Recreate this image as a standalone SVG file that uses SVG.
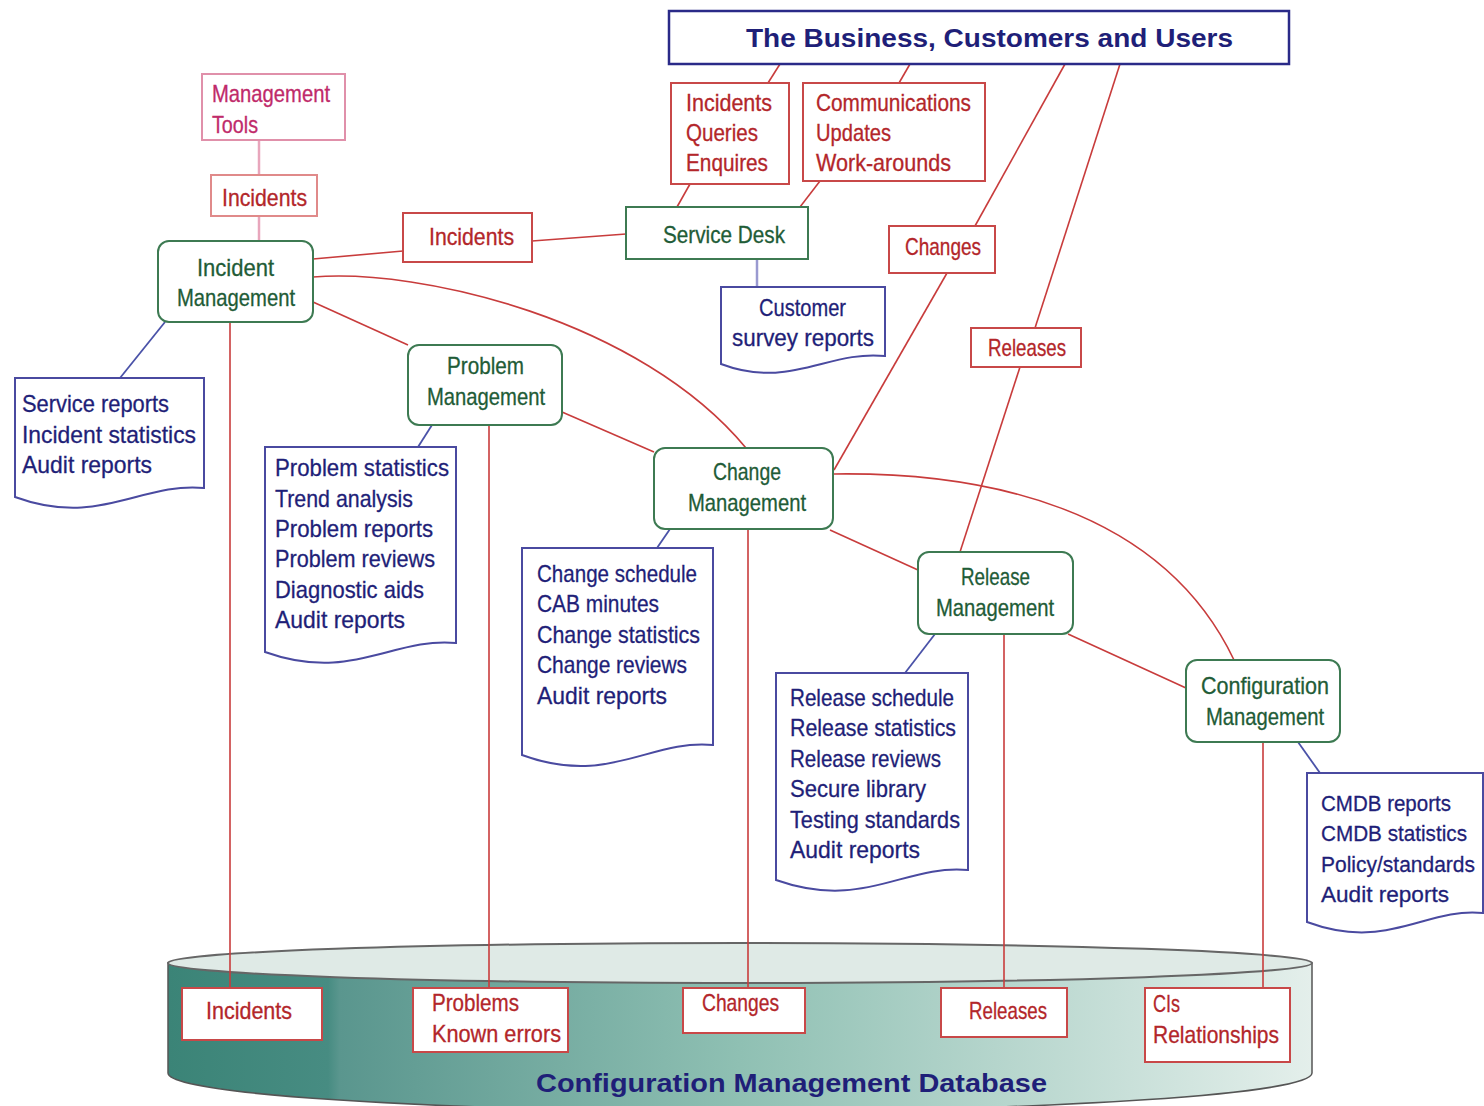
<svg xmlns="http://www.w3.org/2000/svg" width="1484" height="1106" viewBox="0 0 1484 1106">
<defs>
<linearGradient id="dbg" x1="168" y1="0" x2="1312" y2="0" gradientUnits="userSpaceOnUse">
<stop offset="0" stop-color="#3b8477"/>
<stop offset="0.14" stop-color="#478c82"/>
<stop offset="0.15" stop-color="#5a968e"/>
<stop offset="0.5" stop-color="#8fc0b3"/>
<stop offset="1" stop-color="#e4efeb"/>
</linearGradient>
<style>
text{font-family:"Liberation Sans",Arial,sans-serif;font-size:24px}
.g{fill:#1f5c37;stroke:#1f5c37;stroke-width:0.3}
.r{fill:#b3262a;stroke:#b3262a;stroke-width:0.3}
.n{fill:#1f1f78;stroke:#1f1f78;stroke-width:0.3}
.m{fill:#c02a6a;stroke:#c02a6a;stroke-width:0.3}
.s{font-size:22px}
.b{font-weight:bold;font-size:26px;fill:#1f1f78}
.node{fill:#fff;stroke:#3d7a52;stroke-width:2}
.lab{fill:#fff;stroke:#c84848;stroke-width:2}
.doc{fill:#fff;stroke:#4a4aa0;stroke-width:2}
.c{fill:none;stroke:#c83c3c;stroke-width:1.6}
.cb{fill:none;stroke:#4a52a8;stroke-width:1.8}
</style>
</defs>
<rect width="1484" height="1106" fill="#fff"/>

<g id="connectors">
<line class="c" x1="780" y1="64" x2="768" y2="83"/>
<line class="c" x1="910" y1="64" x2="899" y2="83"/>
<line class="c" x1="690" y1="184" x2="677" y2="207"/>
<line class="c" x1="820" y1="181" x2="800" y2="207"/>
<line class="c" x1="1065" y1="64" x2="975" y2="226"/>
<line class="c" x1="947" y1="273" x2="834" y2="470"/>
<line class="c" x1="1120" y1="64" x2="1035" y2="328"/>
<line class="c" x1="1020" y1="367" x2="960" y2="552"/>
<line class="c" x1="313" y1="259" x2="403" y2="251"/>
<line class="c" x1="532" y1="241" x2="626" y2="234"/>
<line class="c" x1="313" y1="302" x2="408" y2="345"/>
<line class="c" x1="562" y1="412" x2="654" y2="452"/>
<line class="c" x1="830" y1="530" x2="918" y2="570"/>
<line class="c" x1="1068" y1="634" x2="1186" y2="688"/>
<path class="c" d="M313,277 C420,268 640,320 746,448"/>
<path class="c" d="M834,474 C980,472 1160,505 1234,660"/>
<line x1="259" y1="140" x2="259" y2="175" stroke="#e8a6bc" stroke-width="2.5"/>
<line x1="259" y1="216" x2="259" y2="241" stroke="#e8a6bc" stroke-width="2.5"/>
<line x1="757" y1="259" x2="757" y2="287" stroke="#9a9ad0" stroke-width="2.5"/>
<line class="cb" x1="165" y1="322" x2="120" y2="378"/>
<line class="cb" x1="432" y1="425" x2="418" y2="447"/>
<line class="cb" x1="670" y1="529" x2="657" y2="548"/>
<line class="cb" x1="935" y1="634" x2="905" y2="673"/>
<line class="cb" x1="1298" y1="742" x2="1320" y2="773"/>
</g>

<g id="cmdb">
<path d="M168,963 V1073 A572 38 0 0 0 1312,1073 V963 Z" fill="url(#dbg)" stroke="#555" stroke-width="1.5"/>
<ellipse cx="740" cy="963" rx="572" ry="20" fill="#dfeae6" stroke="#666" stroke-width="2"/>
<text class="b" x="536" y="1092" textLength="511" lengthAdjust="spacingAndGlyphs">Configuration Management Database</text>
</g>

<g id="db-lines">
<line class="c" x1="230" y1="322" x2="230" y2="988"/>
<line class="c" x1="489" y1="425" x2="489" y2="988"/>
<line class="c" x1="748" y1="529" x2="748" y2="988"/>
<line class="c" x1="1004" y1="634" x2="1004" y2="988"/>
<line class="c" x1="1263" y1="742" x2="1263" y2="988"/>
</g>

<g id="business">
<rect x="669" y="11" width="620" height="53" fill="#fff" stroke="#2a2a88" stroke-width="2.5"/>
<text class="b" x="746" y="47" textLength="487" lengthAdjust="spacingAndGlyphs">The Business, Customers and Users</text>
</g>

<g id="management-tools">
<rect x="202" y="74" width="143" height="66" fill="#fff" stroke="#e090aa" stroke-width="2"/>
<text class="m" x="212" y="102" textLength="118" lengthAdjust="spacingAndGlyphs">Management</text>
<text class="m" x="212" y="133" textLength="46" lengthAdjust="spacingAndGlyphs">Tools</text>
</g>

<g id="incidents-tools">
<rect x="211" y="175" width="106" height="41" fill="#fff" stroke="#e08a8a" stroke-width="2"/>
<text class="r" x="222" y="206" textLength="85" lengthAdjust="spacingAndGlyphs">Incidents</text>
</g>

<g id="incident-management">
<rect class="node" x="158" y="241" width="155" height="81" rx="11"/>
<text class="g" x="197" y="276" textLength="77" lengthAdjust="spacingAndGlyphs">Incident</text>
<text class="g" x="177" y="306" textLength="118" lengthAdjust="spacingAndGlyphs">Management</text>
</g>

<g id="incidents-mid">
<rect class="lab" x="403" y="213" width="129" height="49"/>
<text class="r" x="429" y="245" textLength="85" lengthAdjust="spacingAndGlyphs">Incidents</text>
</g>

<g id="iqe">
<rect class="lab" x="671" y="83" width="118" height="101"/>
<text class="r" x="686" y="111" textLength="86" lengthAdjust="spacingAndGlyphs">Incidents</text>
<text class="r" x="686" y="141" textLength="72" lengthAdjust="spacingAndGlyphs">Queries</text>
<text class="r" x="686" y="171" textLength="82" lengthAdjust="spacingAndGlyphs">Enquires</text>
</g>

<g id="communications">
<rect class="lab" x="803" y="83" width="182" height="98"/>
<text class="r" x="816" y="111" textLength="155" lengthAdjust="spacingAndGlyphs">Communications</text>
<text class="r" x="816" y="141" textLength="75" lengthAdjust="spacingAndGlyphs">Updates</text>
<text class="r" x="816" y="171" textLength="135" lengthAdjust="spacingAndGlyphs">Work-arounds</text>
</g>

<g id="service-desk">
<rect class="node" x="626" y="207" width="182" height="52"/>
<text class="g" x="663" y="243" textLength="122" lengthAdjust="spacingAndGlyphs">Service Desk</text>
</g>

<g id="customer-survey">
<path class="doc" d="M721,287 H885 V356 C828,350 790,390 721,364 Z"/>
<text class="n" x="759" y="316" textLength="87" lengthAdjust="spacingAndGlyphs">Customer</text>
<text class="n" x="732" y="346" textLength="142" lengthAdjust="spacingAndGlyphs">survey reports</text>
</g>

<g id="changes-label">
<rect class="lab" x="889" y="226" width="106" height="47"/>
<text class="r" x="905" y="255" textLength="76" lengthAdjust="spacingAndGlyphs">Changes</text>
</g>

<g id="releases-label">
<rect class="lab" x="971" y="328" width="110" height="39"/>
<text class="r" x="988" y="356" textLength="78" lengthAdjust="spacingAndGlyphs">Releases</text>
</g>

<g id="problem-management">
<rect class="node" x="408" y="345" width="154" height="80" rx="11"/>
<text class="g" x="447" y="374" textLength="77" lengthAdjust="spacingAndGlyphs">Problem</text>
<text class="g" x="427" y="405" textLength="118" lengthAdjust="spacingAndGlyphs">Management</text>
</g>

<g id="change-management">
<rect class="node" x="654" y="448" width="179" height="81" rx="11"/>
<text class="g" x="713" y="480" textLength="68" lengthAdjust="spacingAndGlyphs">Change</text>
<text class="g" x="688" y="511" textLength="118" lengthAdjust="spacingAndGlyphs">Management</text>
</g>

<g id="release-management">
<rect class="node" x="918" y="552" width="155" height="82" rx="11"/>
<text class="g" x="961" y="585" textLength="69" lengthAdjust="spacingAndGlyphs">Release</text>
<text class="g" x="936" y="616" textLength="118" lengthAdjust="spacingAndGlyphs">Management</text>
</g>

<g id="configuration-management">
<rect class="node" x="1186" y="660" width="154" height="82" rx="11"/>
<text class="g" x="1201" y="694" textLength="128" lengthAdjust="spacingAndGlyphs">Configuration</text>
<text class="g" x="1206" y="725" textLength="118" lengthAdjust="spacingAndGlyphs">Management</text>
</g>

<g id="service-reports">
<path class="doc" d="M15,378 H204 V488 C140,482 100,528 15,497 Z"/>
<text class="n" x="22" y="412" textLength="147" lengthAdjust="spacingAndGlyphs">Service reports</text>
<text class="n" x="22" y="443" textLength="174" lengthAdjust="spacingAndGlyphs">Incident statistics</text>
<text class="n" x="22" y="473" textLength="130" lengthAdjust="spacingAndGlyphs">Audit reports</text>
</g>

<g id="problem-outputs">
<path class="doc" d="M265,447 H456 V643 C392,637 352,683 265,652 Z"/>
<text class="n" x="275" y="476" textLength="174" lengthAdjust="spacingAndGlyphs">Problem statistics</text>
<text class="n" x="275" y="507" textLength="138" lengthAdjust="spacingAndGlyphs">Trend analysis</text>
<text class="n" x="275" y="537" textLength="158" lengthAdjust="spacingAndGlyphs">Problem reports</text>
<text class="n" x="275" y="567" textLength="160" lengthAdjust="spacingAndGlyphs">Problem reviews</text>
<text class="n" x="275" y="598" textLength="149" lengthAdjust="spacingAndGlyphs">Diagnostic aids</text>
<text class="n" x="275" y="628" textLength="130" lengthAdjust="spacingAndGlyphs">Audit reports</text>
</g>

<g id="change-outputs">
<path class="doc" d="M522,548 H713 V745 C649,739 609,787 522,755 Z"/>
<text class="n" x="537" y="582" textLength="160" lengthAdjust="spacingAndGlyphs">Change schedule</text>
<text class="n" x="537" y="612" textLength="122" lengthAdjust="spacingAndGlyphs">CAB minutes</text>
<text class="n" x="537" y="643" textLength="163" lengthAdjust="spacingAndGlyphs">Change statistics</text>
<text class="n" x="537" y="673" textLength="150" lengthAdjust="spacingAndGlyphs">Change reviews</text>
<text class="n" x="537" y="704" textLength="130" lengthAdjust="spacingAndGlyphs">Audit reports</text>
</g>

<g id="release-outputs">
<path class="doc" d="M776,673 H968 V870 C904,864 864,911 776,880 Z"/>
<text class="n" x="790" y="706" textLength="164" lengthAdjust="spacingAndGlyphs">Release schedule</text>
<text class="n" x="790" y="736" textLength="166" lengthAdjust="spacingAndGlyphs">Release statistics</text>
<text class="n" x="790" y="767" textLength="151" lengthAdjust="spacingAndGlyphs">Release reviews</text>
<text class="n" x="790" y="797" textLength="136" lengthAdjust="spacingAndGlyphs">Secure library</text>
<text class="n" x="790" y="828" textLength="170" lengthAdjust="spacingAndGlyphs">Testing standards</text>
<text class="n" x="790" y="858" textLength="130" lengthAdjust="spacingAndGlyphs">Audit reports</text>
</g>

<g id="cmdb-outputs">
<path class="doc" d="M1307,773 H1483 V913 C1425,907 1388,952 1307,922 Z"/>
<text class="n s" x="1321" y="811" textLength="130" lengthAdjust="spacingAndGlyphs">CMDB reports</text>
<text class="n s" x="1321" y="841" textLength="146" lengthAdjust="spacingAndGlyphs">CMDB statistics</text>
<text class="n s" x="1321" y="872" textLength="154" lengthAdjust="spacingAndGlyphs">Policy/standards</text>
<text class="n s" x="1321" y="902" textLength="128" lengthAdjust="spacingAndGlyphs">Audit reports</text>
</g>

<g id="db-incidents">
<rect class="lab" x="182" y="988" width="140" height="52"/>
<text class="r" x="206" y="1019" textLength="86" lengthAdjust="spacingAndGlyphs">Incidents</text>
</g>
<g id="db-problems">
<rect class="lab" x="413" y="988" width="155" height="64"/>
<text class="r" x="432" y="1011" textLength="87" lengthAdjust="spacingAndGlyphs">Problems</text>
<text class="r" x="432" y="1042" textLength="129" lengthAdjust="spacingAndGlyphs">Known errors</text>
</g>
<g id="db-changes">
<rect class="lab" x="683" y="988" width="122" height="45"/>
<text class="r" x="702" y="1011" textLength="77" lengthAdjust="spacingAndGlyphs">Changes</text>
</g>
<g id="db-releases">
<rect class="lab" x="941" y="988" width="126" height="49"/>
<text class="r" x="969" y="1019" textLength="78" lengthAdjust="spacingAndGlyphs">Releases</text>
</g>
<g id="db-cis">
<rect class="lab" x="1145" y="988" width="145" height="74"/>
<text class="r" x="1153" y="1012" textLength="27" lengthAdjust="spacingAndGlyphs">CIs</text>
<text class="r" x="1153" y="1043" textLength="126" lengthAdjust="spacingAndGlyphs">Relationships</text>
</g>
</svg>
